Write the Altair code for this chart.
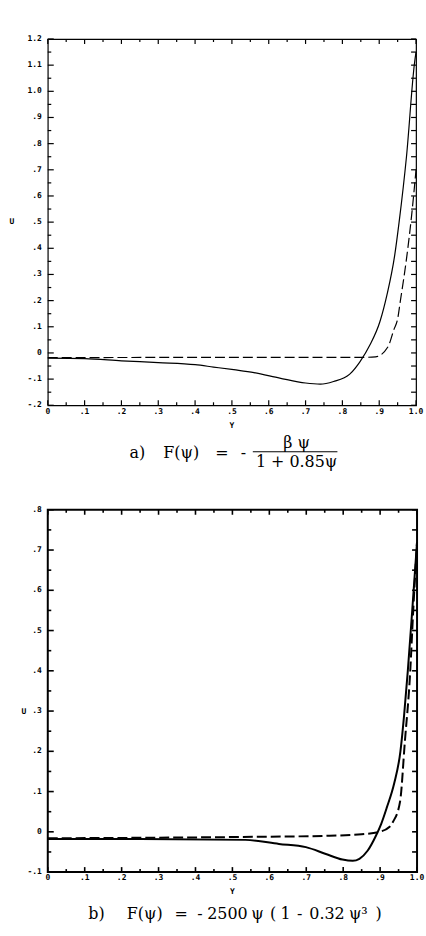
import altair as alt
import pandas as pd

# ---------------- data ----------------
# Panel a
a_solid_y = [0.0, 0.1, 0.2, 0.3, 0.4, 0.45, 0.505, 0.56, 0.63, 0.70, 0.74, 0.776, 0.82,
             0.848, 0.875, 0.902, 0.921, 0.942, 0.954, 0.974, 0.996, 1.0]
a_solid_u = [-0.02, -0.022, -0.03, -0.037, -0.045, -0.054, -0.064, -0.075, -0.096, -0.115,
             -0.119, -0.109, -0.081, -0.033, 0.031, 0.12, 0.222, 0.373, 0.50, 0.75, 1.11, 1.15]
a_dash_y = [0.0, 0.5, 0.85, 0.89, 0.924, 0.94, 0.95, 0.957, 0.975, 0.988, 1.0]
a_dash_u = [-0.018, -0.017, -0.017, -0.015, 0.024, 0.09, 0.13, 0.195, 0.37, 0.526, 0.70]

# Panel b
b_solid_y = [0.0, 0.25, 0.535, 0.626, 0.699, 0.753, 0.798, 0.826, 0.844, 0.866, 0.889,
             0.903, 0.918, 0.938, 0.955, 0.965, 0.975, 0.987, 1.0]
b_solid_u = [-0.018, -0.018, -0.02, -0.03, -0.038, -0.055, -0.069, -0.072, -0.067, -0.047,
             -0.009, 0.02, 0.06, 0.12, 0.2, 0.29, 0.4, 0.55, 0.72]
b_dash_y = [0.0, 0.5, 0.75, 0.85, 0.898, 0.925, 0.935, 0.954, 0.967, 0.981, 0.99, 1.0]
b_dash_u = [-0.016, -0.013, -0.01, -0.006, 0.0, 0.012, 0.025, 0.075, 0.224, 0.39, 0.556, 0.72]

# ticks and tick labels
x_ticks = [0.0, 0.1, 0.2, 0.3, 0.4, 0.5, 0.6, 0.7, 0.8, 0.9, 1.0]
x_tick_labels = ['0', '.1', '.2', '.3', '.4', '.5', '.6', '.7', '.8', '.9', '1.0']
a_y_ticks = [-0.2, -0.1, 0.0, 0.1, 0.2, 0.3, 0.4, 0.5, 0.6, 0.7, 0.8, 0.9, 1.0, 1.1, 1.2]
a_y_tick_labels = ['-.2', '-.1', '0', '.1', '.2', '.3', '.4', '.5', '.6', '.7', '.8', '.9',
                   '1.0', '1.1', '1.2']
b_y_ticks = [-0.1, 0.0, 0.1, 0.2, 0.3, 0.4, 0.5, 0.6, 0.7, 0.8]
b_y_tick_labels = ['-.1', '0', '.1', '.2', '.3', '.4', '.5', '.6', '.7', '.8']

# axis titles and caption texts
x_title = 'Y'
y_title = 'U'
cap_a_label = 'a)'
cap_a_lhs = 'F(ψ)'
cap_a_num = 'β ψ'
cap_a_den = '1 + 0.85ψ'
cap_b_label = 'b)'
cap_b_parts = ['F(ψ)', '=', '-', '2500', 'ψ', '(', '1', '-', '0.32', 'ψ³', ')']
# ----------------------------------------------------------------

MONO = 'DejaVu Sans Mono'
SERIF = 'DejaVu Serif'


def minors(ticks):
    return [round((p + q) / 2, 3) for p, q in zip(ticks[:-1], ticks[1:])]


def text_layer(txt, x, y, size=16, align='center', font=SERIF, weight='normal'):
    return alt.Chart(pd.DataFrame({'t': [txt]})).mark_text(
        font=font, fontSize=size, fontWeight=weight, align=align, baseline='middle',
        color='black'
    ).encode(text='t:N', x=alt.value(x), y=alt.value(y))


def panel(sy, su, dy, du, yt, ytl, ydom, W, H, lw, tw, utitle_xy, xtitle_xy, xlab_y):
    xscale = alt.Scale(domain=[0, 1], nice=False, zero=False)
    yscale = alt.Scale(domain=ydom, nice=False, zero=False)

    def X(f='Y'):
        return alt.X(f + ':Q', scale=xscale, axis=None)

    def Yc(f='U'):
        return alt.Y(f + ':Q', scale=yscale, axis=None)

    solid = alt.Chart(pd.DataFrame({'Y': sy, 'U': su})).mark_line(
        color='black', strokeWidth=lw, interpolate='monotone').encode(x=X(), y=Yc())
    dash = alt.Chart(pd.DataFrame({'Y': dy, 'U': du})).mark_line(
        color='black', strokeWidth=lw, strokeDash=[10, 4], interpolate='monotone'
    ).encode(x=X(), y=Yc())

    ymaj = pd.DataFrame({'U': yt, 'U2': yt})
    ymin = pd.DataFrame({'U': minors(yt), 'U2': minors(yt)})
    yall = sorted(yt + minors(yt))
    yall = pd.DataFrame({'U': yall, 'U2': yall})
    xmaj = pd.DataFrame({'Y': x_ticks, 'Y2': x_ticks})
    xmin = pd.DataFrame({'Y': minors(x_ticks), 'Y2': minors(x_ticks)})

    def tk(df, a, b, horiz):
        m = alt.Chart(df).mark_rule(color='black', strokeWidth=tw)
        if horiz:
            return m.encode(y=Yc(), y2='U2', x=alt.value(a), x2=alt.value(b))
        return m.encode(x=X(), x2='Y2', y=alt.value(a), y2=alt.value(b))

    ticks = [
        tk(ymaj, 0, 6, True),
        tk(ymin, 0, 3.5, True),
        tk(yall, W, W - 5, True),
        tk(xmaj, 0, 5, False),
        tk(xmin, 0, 3, False),
        tk(xmaj, H, H - 5, False),
        tk(xmin, H, H - 3, False),
    ]

    lab = dict(font=MONO, fontSize=8, fontWeight='bold', color='black', baseline='middle')
    ylabels = alt.Chart(pd.DataFrame({'U': yt, 'lab': ytl})).mark_text(
        align='right', **lab).encode(y=Yc(), x=alt.value(-6), text='lab:N')
    xlabels = alt.Chart(pd.DataFrame({'Y': x_ticks, 'lab': x_tick_labels})).mark_text(
        align='center', **lab).encode(x=X(), y=alt.value(xlab_y), text='lab:N')
    titles = [
        text_layer(y_title, utitle_xy[0], utitle_xy[1], size=8, font=MONO, weight='bold'),
        text_layer(x_title, xtitle_xy[0], xtitle_xy[1], size=8, font=MONO, weight='bold'),
    ]
    return [solid, dash] + ticks + [ylabels, xlabels] + titles


WA, HA = 370, 368
WB, HB = 371, 364

layers_a = panel(a_solid_y, a_solid_u, a_dash_y, a_dash_u, a_y_ticks, a_y_tick_labels,
                 [-0.2, 1.2], WA, HA, 1.2, 1.2, (-36, HA / 2), (WA / 2, HA + 21), HA + 7)
layers_a += [
    text_layer(cap_a_label, 82, 415.7, align='left'),
    text_layer(cap_a_lhs, 116, 415.7, align='left'),
    text_layer('=', 175, 415.7),
    text_layer('-', 196.5, 415.7),
    text_layer(cap_a_num, 250, 405.5),
    alt.Chart(pd.DataFrame({'t': [0]})).mark_rule(color='black', strokeWidth=1).encode(
        x=alt.value(206), x2=alt.value(291), y=alt.value(414.7)),
    text_layer(cap_a_den, 250, 425),
]
chart_a = alt.layer(*layers_a).properties(
    width=WA, height=HA, view=alt.ViewBackground(stroke='black', strokeWidth=1.2))

layers_b = panel(b_solid_y, b_solid_u, b_dash_y, b_dash_u, b_y_ticks, b_y_tick_labels,
                 [-0.1, 0.8], WB, HB, 2.0, 1.6, (-24, 203), (WB / 2, HB + 20), HB + 5.5)
b_centers = [143.3, 180, 199, 226.5, 256.7, 272.5, 285, 299, 326.5, 358, 378.3]
layers_b += [text_layer(cap_b_label, 95 - 46, 406)]
layers_b += [text_layer(t, cx - 46, 406) for t, cx in zip(cap_b_parts, b_centers)]
chart_b = alt.layer(*layers_b).properties(
    width=WB, height=HB, view=alt.ViewBackground(stroke='black', strokeWidth=2))

chart = alt.vconcat(chart_a, chart_b, spacing=105, bounds='flush').properties(
    padding={'left': 8, 'top': 32, 'right': 0, 'bottom': 0}
).configure(background='white')

chart.save("out.html", embed_options={"renderer": "svg", "actions": False})
